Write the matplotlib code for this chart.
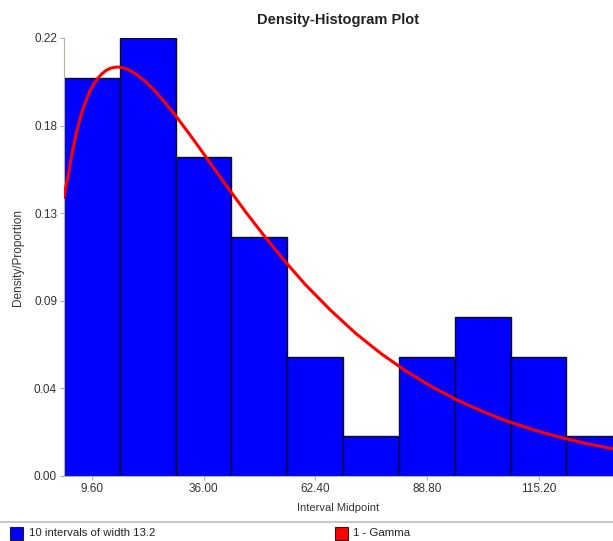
"""
Density-histogram of interval proportions with the fitted gamma curve on top.
"""
import matplotlib
matplotlib.use("Agg")
import matplotlib.pyplot as plt
from matplotlib.patches import Rectangle
from matplotlib.lines import Line2D

plt.rcParams["font.family"] = ["Liberation Sans", "DejaVu Sans"]

# histogram: 10 intervals of width 13.2
bin_start = 3.0
bin_width = 13.2
proportions = [0.20, 0.22, 0.16, 0.12, 0.06, 0.02, 0.06, 0.08, 0.06, 0.02]

# fitted gamma curve (scaled to proportion per interval)
curve_x = [3, 3.5, 4, 4.5, 5, 5.5, 6, 7, 8, 9, 10, 11, 12, 13, 14, 15, 16, 17,
           18, 20, 22, 24, 26, 28, 30, 32, 34, 36, 38, 42, 46, 50, 55, 60, 66,
           72, 78, 84, 90, 96, 102, 108, 114, 120, 126, 133]
curve_y = [0.140, 0.146, 0.151, 0.1575, 0.163, 0.168, 0.173, 0.1810, 0.1875,
           0.1927, 0.1967, 0.1998, 0.2021, 0.2038, 0.2048, 0.2053, 0.2054,
           0.2050, 0.2043, 0.2020, 0.1986, 0.1945, 0.1898, 0.1847, 0.1793,
           0.1736, 0.1678, 0.1619, 0.1559, 0.1441, 0.1325, 0.1215, 0.1084,
           0.0963, 0.0833, 0.0716, 0.0614, 0.0525, 0.0448, 0.0381, 0.0324,
           0.0274, 0.0232, 0.0196, 0.01654, 0.01355]

xtick_vals = [9.6, 36.0, 62.4, 88.8, 115.2]
xtick_labels = ["9.60", "36.00", "62.40", "88.80", "115.20"]
ytick_vals = [0.0, 0.044, 0.088, 0.132, 0.176, 0.22]
ytick_labels = ["0.00", "0.04", "0.09", "0.13", "0.18", "0.22"]

W, H = 613, 541
fig = plt.figure(figsize=(W / 100, H / 100), dpi=100)
ax = fig.add_axes([64 / W, (H - 476) / H, (W - 64) / W, (476 - 38) / H])

lefts = [bin_start + i * bin_width for i in range(len(proportions))]
ax.bar(lefts, proportions, width=bin_width, align="edge", color="#0000ff",
       edgecolor="#101010", linewidth=1.0, zorder=2)
ax.plot(curve_x, curve_y, color="#ff0000", lw=2.2, zorder=3,
        solid_joinstyle="round")

ax.set_xlim(bin_start, 132.8)
ax.set_ylim(0, 0.22)
ax.set_xticks(xtick_vals)
ax.set_xticklabels(xtick_labels)
ax.set_yticks(ytick_vals)
ax.set_yticklabels(ytick_labels)
ax.tick_params(axis="both", labelsize=8.5, colors="#a8a8a8", labelcolor="#333333",
               length=3, width=0.8, pad=2)

for side in ("top", "right"):
    ax.spines[side].set_visible(False)
ax.spines["left"].set_color("#b8b0a0")
ax.spines["bottom"].set_color("#b8b0a0")

fig.text(338 / W, 1 - 20 / H, "Density-Histogram Plot", ha="center", va="center",
         fontsize=10.5, fontweight="bold", color="#222222")
fig.text(338 / W, 1 - 508 / H, "Interval Midpoint", ha="center", va="center",
         fontsize=8, color="#333333")
fig.text(18 / W, 1 - 257 / H, "Density/Proportion", ha="center", va="center",
         rotation=90, fontsize=8.5, color="#333333")

# legend strip under the plot
fig.add_artist(Line2D([0, 1], [1 - 522 / H, 1 - 522 / H], color="#c8c8c8", lw=1.5))
fig.add_artist(Rectangle((10 / W, 1 - 540 / H), 13 / W, 13 / H,
                         facecolor="#0000ff", edgecolor="#202020", lw=0.8))
fig.text(29 / W, 1 - 533 / H, "10 intervals of width 13.2", ha="left", va="center",
         fontsize=8.2, color="#222222")
fig.add_artist(Rectangle((335 / W, 1 - 540 / H), 13 / W, 13 / H,
                         facecolor="#ff0000", edgecolor="#202020", lw=0.8))
fig.text(353 / W, 1 - 533 / H, "1 - Gamma", ha="left", va="center",
         fontsize=8.2, color="#222222")

fig.savefig("out.png", dpi=100)
